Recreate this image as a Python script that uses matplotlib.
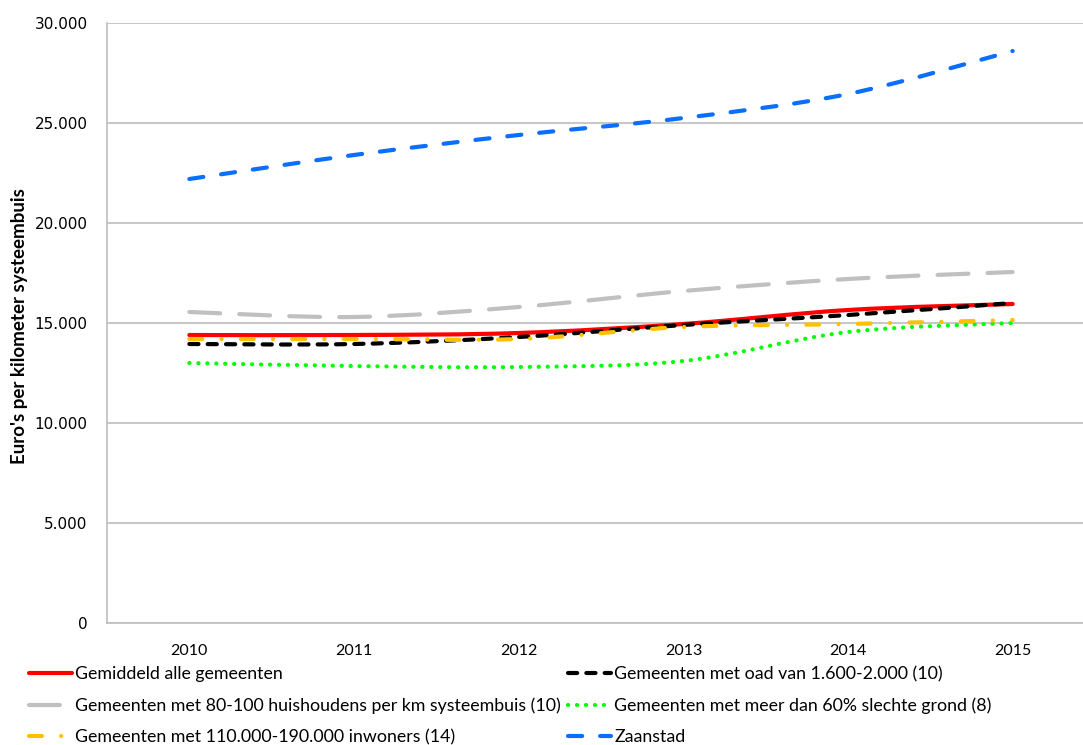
import matplotlib
matplotlib.use("Agg")
import matplotlib.pyplot as plt
from matplotlib.lines import Line2D
from matplotlib.patches import PathPatch
from matplotlib.path import Path
from matplotlib.ticker import FuncFormatter

plt.rcParams["font.family"] = ["Lato", "DejaVu Sans"]

years = ["2010", "2011", "2012", "2013", "2014", "2015"]

gemiddeld = [14400, 14400, 14500, 14950, 15650, 15950]
oad = [13950, 13950, 14300, 14900, 15400, 16000]
huishoudens = [15550, 15300, 15800, 16600, 17200, 17550]
slechte_grond = [13000, 12850, 12800, 13100, 14550, 15000]
inwoners = [14200, 14200, 14200, 14800, 14950, 15150]
zaanstad = [22200, 23400, 24400, 25250, 26450, 28600]

series = [
    ("Gemiddeld alle gemeenten", gemiddeld, "#FF0000", "-"),
    ("Gemeenten met oad van 1.600-2.000 (10)", oad, "#000000", (0, (2.2, 2.2))),
    ("Gemeenten met 80-100 huishoudens per km systeembuis (10)", huishoudens, "#C0C0C0", (0, (7.4, 4.6))),
    ("Gemeenten met meer dan 60% slechte grond (8)", slechte_grond, "#00FF00", (0, (0.05, 2.1))),
    ("Gemeenten met 110.000-190.000 inwoners (14)", inwoners, "#FFC000", (0, (3.1, 4.6, 0.05, 4.6))),
    ("Zaanstad", zaanstad, "#0A6EFF", (0, (3.4, 4.3))),
]


def smooth_path(xs, ys):
    # smoothed line: cubic bezier segments through every point
    verts = [(xs[0], ys[0])]
    codes = [Path.MOVETO]
    n = len(xs)
    for i in range(n - 1):
        x0, y0 = xs[max(i - 1, 0)], ys[max(i - 1, 0)]
        x1, y1 = xs[i], ys[i]
        x2, y2 = xs[i + 1], ys[i + 1]
        x3, y3 = xs[min(i + 2, n - 1)], ys[min(i + 2, n - 1)]
        c1 = (x1 + (x2 - x0) / 6, y1 + (y2 - y0) / 6)
        c2 = (x2 - (x3 - x1) / 6, y2 - (y3 - y1) / 6)
        verts += [c1, c2, (x2, y2)]
        codes += [Path.CURVE4] * 3
    return Path(verts, codes)


fig = plt.figure(figsize=(10.83, 7.45), dpi=100)
ax = fig.add_axes([107 / 1083, 1 - 623 / 745, 988 / 1083, 600 / 745])

x = list(range(len(years)))
handles = []
for label, values, color, style in series:
    lw = 3.0
    patch = PathPatch(smooth_path(x, values), fill=False, edgecolor=color, lw=lw,
                      linestyle=style, capstyle="round", joinstyle="round", zorder=3)
    ax.add_patch(patch)
    handles.append(Line2D([], [], color=color, lw=lw, linestyle=style,
                          dash_capstyle="round", solid_capstyle="round", label=label))

ax.set_xlim(-0.5, 5.5)
ax.set_ylim(0, 30000)
ax.set_yticks(range(0, 30001, 5000))
ax.yaxis.set_major_formatter(FuncFormatter(lambda v, _: f"{int(v):,}".replace(",", ".")))
ax.set_xticks(x)
ax.set_xticklabels(years)
ax.tick_params(axis="both", length=0, labelsize=11.5, colors="black")
ax.tick_params(axis="y", pad=14)
ax.tick_params(axis="x", pad=15)
for lab in ax.get_yticklabels():
    lab.set_family("DejaVu Sans")
    lab.set_fontsize(11)

ax.grid(axis="y", color="#BEBEBE", lw=1.2)
ax.set_axisbelow(True)
for side in ["top", "right"]:
    ax.spines[side].set_visible(False)
for side in ["left", "bottom"]:
    ax.spines[side].set_color("#BEBEBE")
    ax.spines[side].set_linewidth(1.2)

fig.text(20 / 1083, 1 - 326 / 745, "Euro's per kilometer systeembuis", rotation=90,
         fontsize=13.5, fontweight="bold", ha="center", va="center")

# legend fills column-first, so reorder to read row by row
order = [0, 2, 4, 1, 3, 5]
fig.legend([handles[i] for i in order], [handles[i].get_label() for i in order],
           loc="upper left", bbox_to_anchor=(29 / 1083, 1 - 666 / 745), ncol=2,
           frameon=False, fontsize=12.8, handlelength=2.4, handletextpad=0.17,
           labelspacing=0.86, columnspacing=0.45, borderpad=0, borderaxespad=0)

fig.savefig("out.png", dpi=100)
